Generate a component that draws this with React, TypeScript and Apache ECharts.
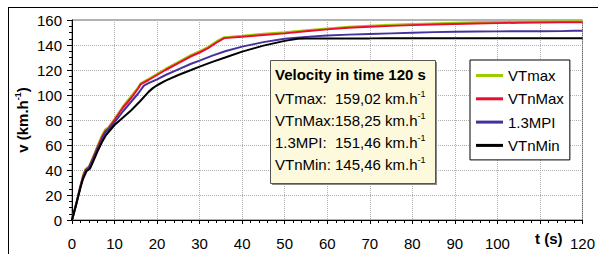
import React, { useEffect, useRef } from "react";
import * as echarts from "echarts";

const seriesNames = ["VTmax", "VTnMax", "1.3MPI", "VTnMin"];
const seriesColors = ["#9ccc00", "#ec0b32", "#46309c", "#000000"];

const vtMax: [number, number][] = [
  [0, 0], [1, 13.5], [2, 28], [2.6, 36], [3.2, 41], [4, 43], [5, 51], [6, 59.5], [7, 67.5], [7.8, 72.5],
  [8.5, 74], [10, 81], [12, 91], [14, 99.5], [15.5, 106], [16.2, 109.5], [18, 113], [20, 117], [22, 121],
  [25, 126.5], [28, 132], [30, 135], [32, 138.5], [34, 143], [35.8, 146.3], [40, 147.5], [45, 149],
  [50, 150.3], [55, 151.8], [60, 153.3], [65, 154.6], [70, 155.5], [75, 156.2], [80, 156.8], [85, 157.3],
  [90, 157.8], [95, 158.2], [100, 158.4], [105, 158.6], [110, 158.8], [115, 158.9], [120, 159.02],
];
const vtnMax: [number, number][] = [
  [0, 0], [1, 13], [2, 27], [2.6, 35], [3.2, 40], [4, 42], [5, 50], [6, 58], [7, 66], [7.8, 71],
  [8.5, 73], [10, 80], [12, 90], [14, 98], [15.5, 105], [16.1, 108.5], [18, 112], [20, 116], [22, 120],
  [25, 125.5], [28, 131], [30, 134], [32, 137.5], [34, 142], [35.8, 145.5], [40, 146.6], [45, 148],
  [50, 149.3], [55, 151], [60, 152.5], [65, 153.8], [70, 154.6], [75, 155.3], [80, 155.9], [85, 156.4],
  [90, 156.8], [95, 157.2], [100, 157.5], [105, 157.8], [110, 158.0], [115, 158.2], [120, 158.25],
];
const mpi13: [number, number][] = [
  [0, 0], [1, 13], [2, 27], [2.6, 34], [3.3, 40], [4, 42], [5, 49], [6, 57], [7, 64], [7.8, 70],
  [8.5, 72], [10, 78], [12, 87], [14, 95], [15.5, 101], [16.9, 107.5], [18, 109.5], [20, 112.5], [22, 116],
  [25, 120.5], [28, 125], [30, 127.5], [33, 131.5], [36, 135], [40, 138.7], [45, 142.3], [50, 145],
  [55, 146.5], [60, 147.6], [65, 148.3], [70, 148.8], [75, 149.3], [80, 149.8], [85, 150.3], [90, 150.6],
  [95, 150.8], [100, 150.9], [110, 151], [115, 151.1], [118, 151.4], [120, 151.46],
];
const vtnMin: [number, number][] = [
  [0, 0], [1, 12.5], [2, 26], [2.6, 33], [3.4, 39], [4.2, 41], [5, 47], [6, 55], [7, 62], [8, 68],
  [9, 72], [10, 76], [12, 82], [14, 88], [16, 95], [18, 102.5], [19, 105.5], [20, 107.8], [22, 111.5],
  [25, 116], [28, 120], [30, 122.7], [33, 126.5], [36, 130], [40, 134.7], [45, 139.5], [50, 143.3],
  [53, 145], [55, 145.2], [60, 145.3], [70, 145.3], [74, 145.4], [80, 145.4], [100, 145.46], [120, 145.46],
];
const seriesData = [vtMax, vtnMax, mpi13, vtnMin];

const boxTitle = "Velocity in time 120 s";
const boxLabels = ["VTmax:  ", "VTnMax:", "1.3MPI:  ", "VTnMin: "];
const boxValues = ["159,02", "158,25", "151,46", "145,46"];

const FONT = "'Liberation Sans', Arial, sans-serif";

export default function App() {
  const ref = useRef<HTMLDivElement>(null);
  useEffect(() => {
    if (!ref.current) return;
    const chart = echarts.init(ref.current, null, { renderer: "svg" });
    const rich = {
      a: { fontSize: 15, fontFamily: FONT, color: "#000", lineHeight: 18 },
      s: { fontSize: 9, fontFamily: FONT, color: "#000", verticalAlign: "top" as const, lineHeight: 18 },
    };
    const boxLines = boxLabels.map((l, i) => ({
      type: "text",
      left: 275,
      top: 89 + i * 22.3,
      style: {
        text: `{a|${l}${boxValues[i]} km.h}{s|-1}`,
        rich,
      },
      z: 101,
    }));
    chart.setOption({
      animation: false,
      backgroundColor: "#fff",
      textStyle: { fontFamily: FONT },
      grid: {
        left: 72, top: 20, right: 8, bottom: 34,
        show: true, borderColor: "#666", borderWidth: 1, backgroundColor: "#fff",
      },
      xAxis: {
        type: "value", min: 0, max: 120, interval: 10,
        axisLine: { show: true, lineStyle: { color: "#000", width: 1 } },
        axisTick: { show: true, length: 4, inside: false, lineStyle: { color: "#000" } },
        minorTick: { show: true, splitNumber: 5, length: 3, lineStyle: { color: "#000" } },
        splitLine: { show: true, lineStyle: { color: "#b0b0b0", type: "dotted", width: 1 } },
        axisLabel: {
          margin: 16, fontSize: 15, color: "#000", fontFamily: FONT,
          formatter: (v: number) => (v === 110 ? "" : String(v)),
        },
      },
      yAxis: {
        type: "value", min: 0, max: 160, interval: 20,
        axisLine: { show: true, lineStyle: { color: "#000", width: 1 } },
        axisTick: { show: true, length: 5, lineStyle: { color: "#000" } },
        minorTick: { show: true, splitNumber: 4, length: 3, lineStyle: { color: "#000" } },
        splitLine: { show: true, lineStyle: { color: "#b0b0b0", type: "dotted", width: 1 } },
        axisLabel: { margin: 10, fontSize: 15, color: "#000", fontFamily: FONT },
      },
      legend: {
        orient: "vertical",
        left: 470, top: 60,
        padding: [8, 6, 7, 6],
        icon: "rect",
        itemWidth: 27, itemHeight: 3, itemGap: 8.3,
        backgroundColor: "#fff", borderColor: "#000", borderWidth: 1,
        textStyle: { fontSize: 15, color: "#000", fontFamily: FONT, lineHeight: 14, height: 14 },
        data: seriesNames,
      },
      series: seriesNames.map((n, i) => ({
        name: n,
        type: "line",
        data: seriesData[i],
        symbol: "none",
        showSymbol: false,
        lineStyle: { color: seriesColors[i], width: 2 },
        itemStyle: { color: seriesColors[i] },
        z: 3 + i,
      })),
      graphic: [
        { type: "line", shape: { x1: 8.5, y1: 7, x2: 8.5, y2: 260 }, style: { stroke: "#000", lineWidth: 1 }, z: 200 },
        { type: "line", shape: { x1: 8, y1: 7.5, x2: 600, y2: 7.5 }, style: { stroke: "#000", lineWidth: 1 }, z: 200 },
        {
          type: "rect", left: 272, top: 62, z: 99,
          shape: { width: 165, height: 123 },
          style: { fill: "#888" },
        },
        {
          type: "rect", left: 270, top: 60, z: 100,
          shape: { width: 165, height: 123 },
          style: { fill: "#fdf9dc", stroke: "#555", lineWidth: 1 },
        },
        {
          type: "text", left: 275, top: 67, z: 101,
          style: { text: boxTitle, font: `bold 15px ${FONT}`, fill: "#000" },
        },
        ...boxLines,
        {
          type: "text", left: 535, top: 231, z: 101,
          style: { text: "t (s)", font: `bold 15px ${FONT}`, fill: "#000" },
        },
        {
          type: "text", x: 22, y: 120, rotation: Math.PI / 2, z: 101,
          style: {
            text: "{b|v (km.h}{t|-1}{b|)}",
            align: "center", verticalAlign: "middle",
            rich: {
              b: { fontSize: 15, fontWeight: "bold", fontFamily: FONT, color: "#000", lineHeight: 18 },
              t: { fontSize: 9, fontWeight: "bold", fontFamily: FONT, color: "#000", verticalAlign: "top", lineHeight: 18 },
            },
          },
        },
      ],
    });
    return () => chart.dispose();
  }, []);
  return (
    <div
      ref={ref}
      style={{ position: "fixed", left: 0, top: 0, width: 598, height: 254 }}
    />
  );
}
